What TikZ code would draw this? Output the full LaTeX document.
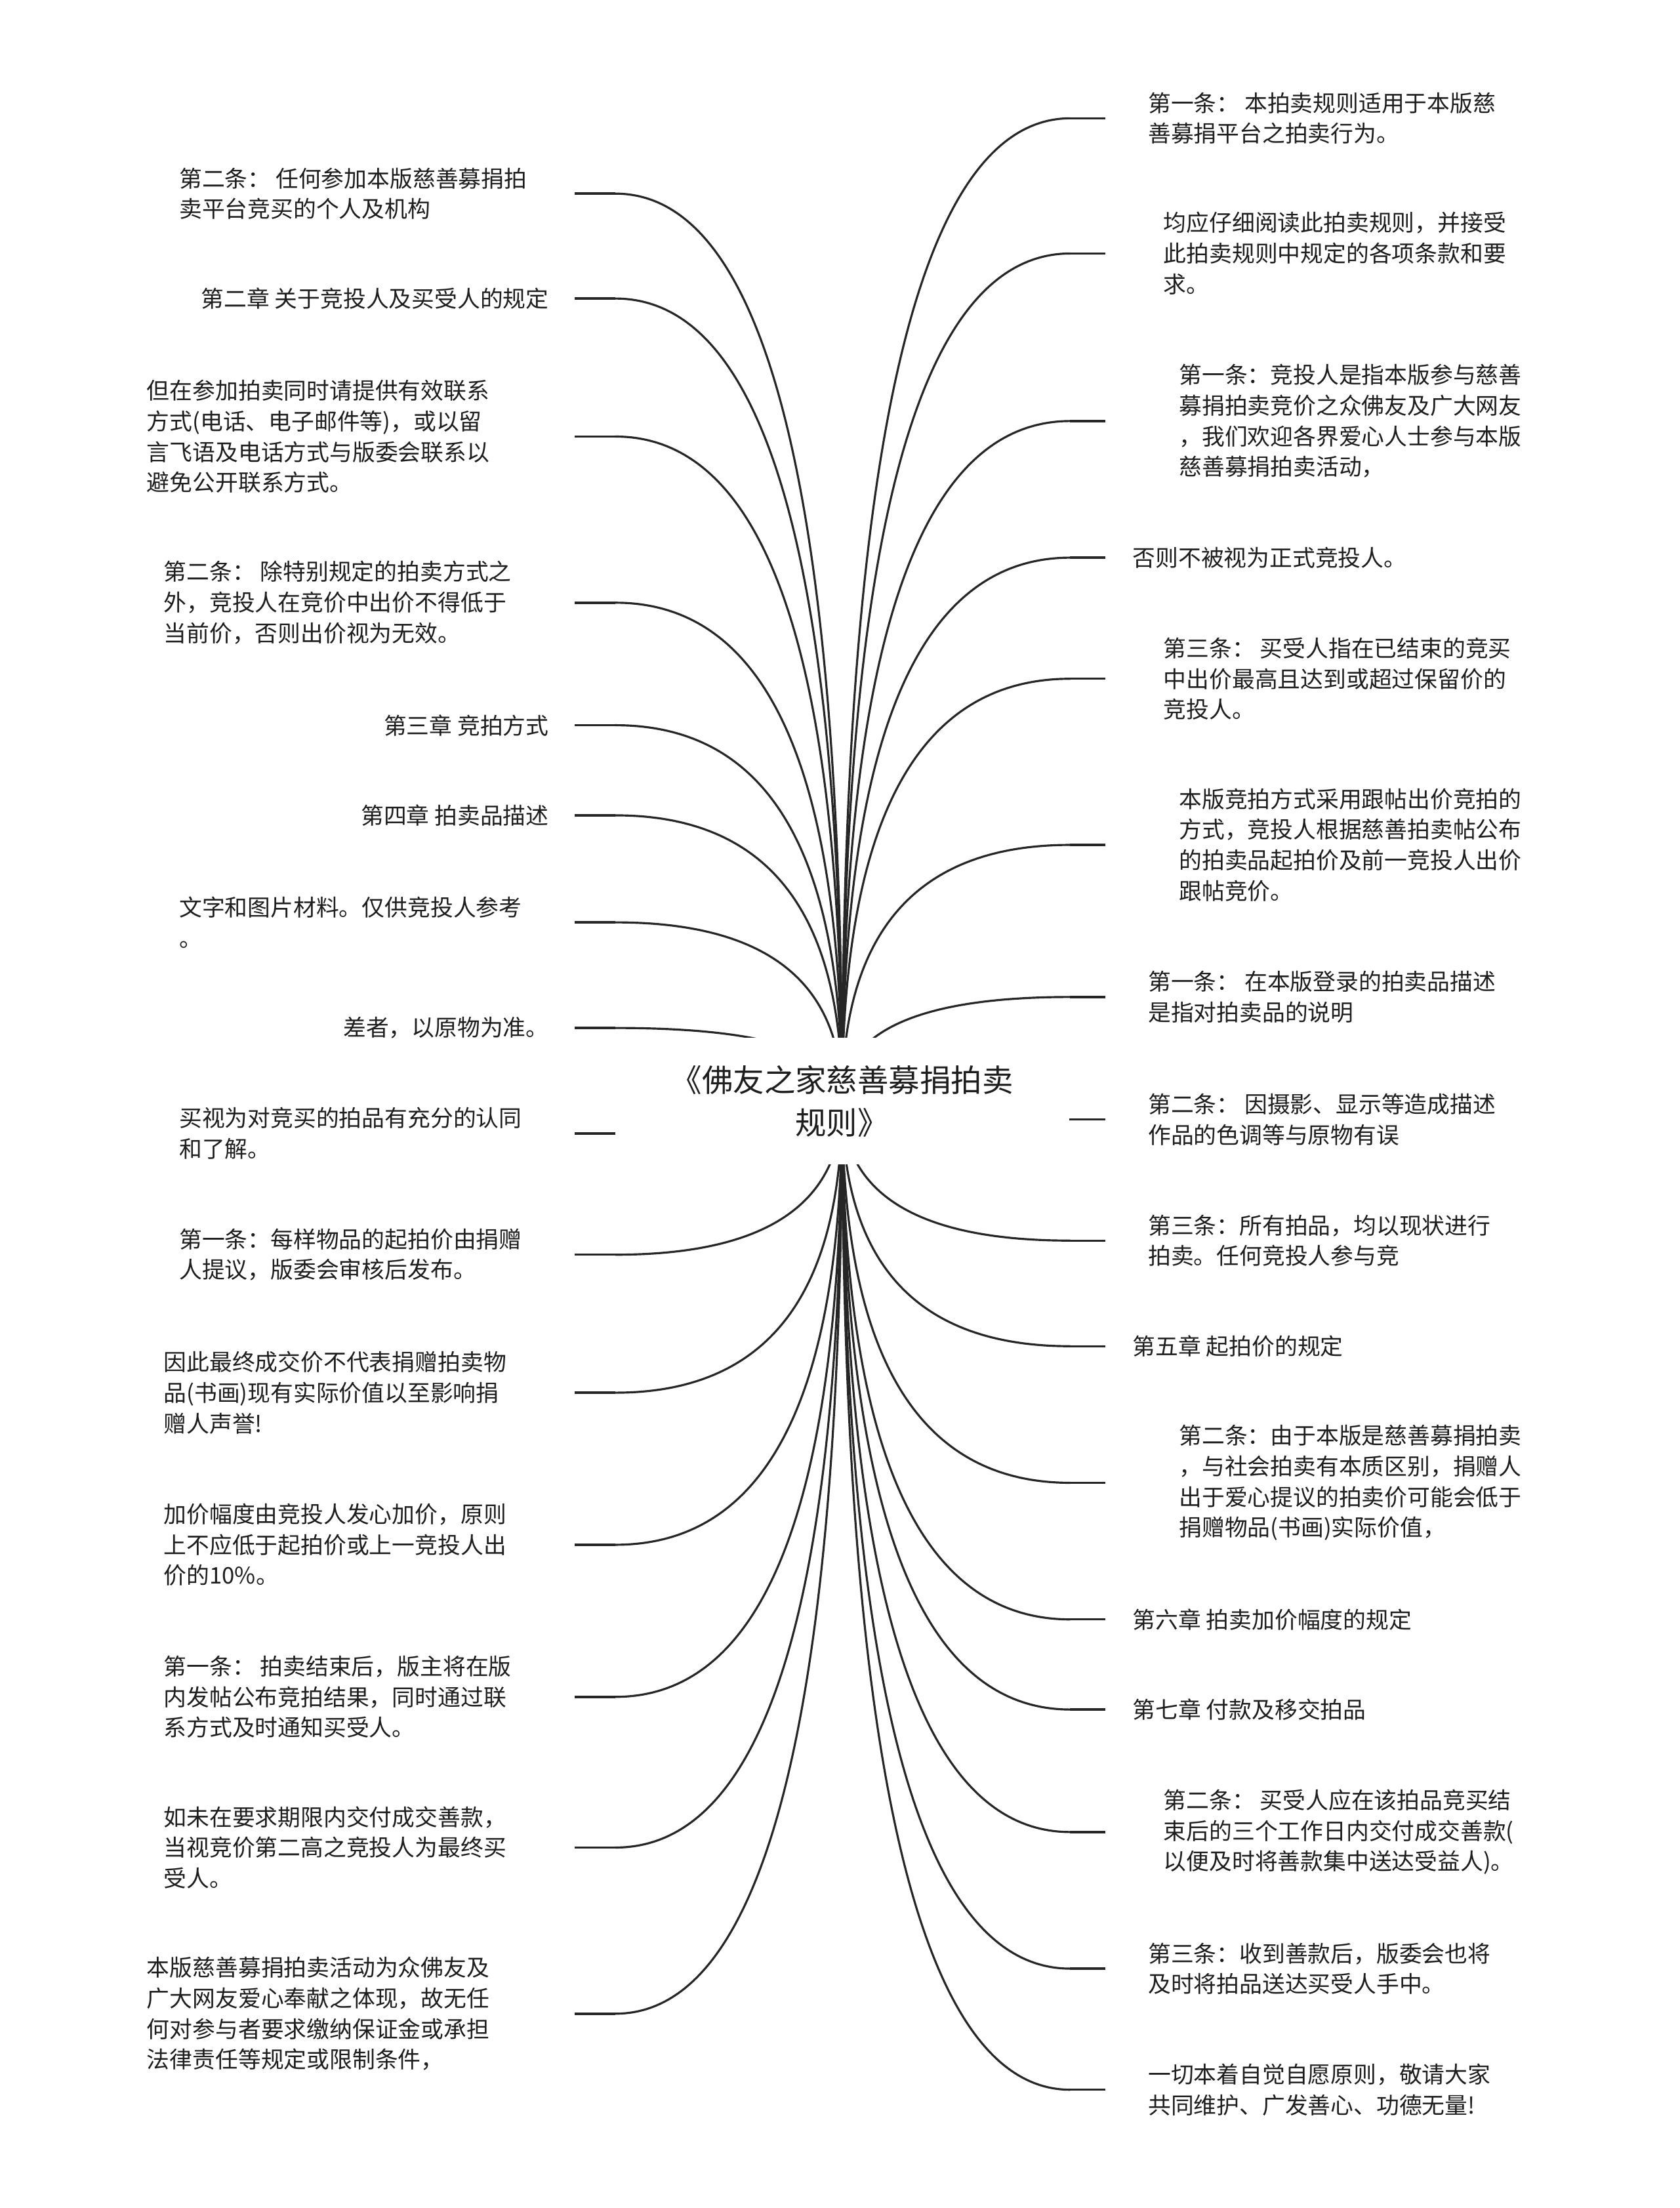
\documentclass[tikz,border=0pt]{standalone}
\usepackage{fontspec}
\usepackage{tikz}
\usetikzlibrary{calc, backgrounds}
\setmainfont{Noto Sans CJK SC}
\definecolor{branchgray}{HTML}{262626}
\definecolor{textdark}{HTML}{1E1E1E}

\begin{document}
\begin{tikzpicture}[
  x=0.21458mm, y=-0.21458mm,
  topic/.style={fill=white, align=center, inner sep=0pt,
               minimum width=69.3mm, minimum height=19.3mm,
               text=textdark, font=\fontsize{13.5pt}{18.4pt}\selectfont},
  leaf/.style={align=left, inner sep=0pt, text=textdark,
               font=\fontsize{9.9pt}{13.3pt}\selectfont},
  branch/.style={draw=branchgray, line width=0.9pt,
               to path={.. controls ($(\tikztostart)!0.667!(\tikztostart |- \tikztotarget)$)
                        and ($(\tikztotarget)!0.667!(\tikztostart |- \tikztotarget)$) .. (\tikztotarget)}},
  stub/.style={draw=branchgray, line width=1pt},
]
\node[topic] (root) at (598,782) {《佛友之家慈善募捐拍卖\\规则》};

% left side
\node[leaf, anchor=west] (l1)  at (127,137.5) {第二条： 任何参加本版慈善募捐拍\\卖平台竞买的个人及机构};
\node[leaf, anchor=east] (l2)  at (390,212)   {第二章 关于竞投人及买受人的规定};
\node[leaf, anchor=west] (l3)  at (104,310)   {但在参加拍卖同时请提供有效联系\\方式(电话、电子邮件等)，或以留\\言飞语及电话方式与版委会联系以\\避免公开联系方式。};
\node[leaf, anchor=west] (l4)  at (116,428)   {第二条： 除特别规定的拍卖方式之\\外，竞投人在竞价中出价不得低于\\当前价，否则出价视为无效。};
\node[leaf, anchor=east] (l5)  at (390,515)   {第三章 竞拍方式};
\node[leaf, anchor=east] (l6)  at (390,579)   {第四章 拍卖品描述};
\node[leaf, anchor=west] (l7)  at (127,655)   {文字和图片材料。仅供竞投人参考\\。};
\node[leaf, anchor=east] (l8)  at (390,730)   {差者，以原物为准。};
\node[leaf, anchor=west] (l9)  at (127,805)   {买视为对竞买的拍品有充分的认同\\和了解。};
\node[leaf, anchor=west] (l10) at (127,891)   {第一条：每样物品的起拍价由捐赠\\人提议，版委会审核后发布。};
\node[leaf, anchor=west] (l11) at (116,989)   {因此最终成交价不代表捐赠拍卖物\\品(书画)现有实际价值以至影响捐\\赠人声誉!};
\node[leaf, anchor=west] (l12) at (116,1097)  {加价幅度由竞投人发心加价，原则\\上不应低于起拍价或上一竞投人出\\价的10\%。};
\node[leaf, anchor=west] (l13) at (116,1205)  {第一条： 拍卖结束后，版主将在版\\内发帖公布竞拍结果，同时通过联\\系方式及时通知买受人。};
\node[leaf, anchor=west] (l14) at (116,1312)  {如未在要求期限内交付成交善款，\\当视竞价第二高之竞投人为最终买\\受人。};
\node[leaf, anchor=west] (l15) at (104,1430)  {本版慈善募捐拍卖活动为众佛友及\\广大网友爱心奉献之体现，故无任\\何对参与者要求缴纳保证金或承担\\法律责任等规定或限制条件，};

% right side
\node[leaf, anchor=west] (r1)  at (815,84)    {第一条： 本拍卖规则适用于本版慈\\善募捐平台之拍卖行为。};
\node[leaf, anchor=west] (r2)  at (826,180)   {均应仔细阅读此拍卖规则，并接受\\此拍卖规则中规定的各项条款和要\\求。};
\node[leaf, anchor=west] (r3)  at (837,299)   {第一条：竞投人是指本版参与慈善\\募捐拍卖竞价之众佛友及广大网友\\，我们欢迎各界爱心人士参与本版\\慈善募捐拍卖活动，};
\node[leaf, anchor=west] (r4)  at (804,396)   {否则不被视为正式竞投人。};
\node[leaf, anchor=west] (r5)  at (826,482)   {第三条： 买受人指在已结束的竞买\\中出价最高且达到或超过保留价的\\竞投人。};
\node[leaf, anchor=west] (r6)  at (837,600)   {本版竞拍方式采用跟帖出价竞拍的\\方式，竞投人根据慈善拍卖帖公布\\的拍卖品起拍价及前一竞投人出价\\跟帖竞价。};
\node[leaf, anchor=west] (r7)  at (815,708)   {第一条： 在本版登录的拍卖品描述\\是指对拍卖品的说明};
\node[leaf, anchor=west] (r8)  at (815,795)   {第二条： 因摄影、显示等造成描述\\作品的色调等与原物有误};
\node[leaf, anchor=west] (r9)  at (815,881)   {第三条：所有拍品，均以现状进行\\拍卖。任何竞投人参与竞};
\node[leaf, anchor=west] (r10) at (804,956)   {第五章 起拍价的规定};
\node[leaf, anchor=west] (r11) at (837,1053)  {第二条：由于本版是慈善募捐拍卖\\，与社会拍卖有本质区别，捐赠人\\出于爱心提议的拍卖价可能会低于\\捐赠物品(书画)实际价值，};
\node[leaf, anchor=west] (r12) at (804,1150)  {第六章 拍卖加价幅度的规定};
\node[leaf, anchor=west] (r13) at (804,1214)  {第七章 付款及移交拍品};
\node[leaf, anchor=west] (r14) at (826,1301)  {第二条： 买受人应在该拍品竞买结\\束后的三个工作日内交付成交善款(\\以便及时将善款集中送达受益人)。};
\node[leaf, anchor=west] (r15) at (815,1398)  {第三条：收到善款后，版委会也将\\及时将拍品送达买受人手中。};
\node[leaf, anchor=west] (r16) at (815,1484)  {一切本着自觉自愿原则，敬请大家\\共同维护、广发善心、功德无量!};

% stub ends
\coordinate (l1a)  at (437,137.5); \coordinate (l1b)  at (408,137.5);
\coordinate (l2a)  at (437,212);   \coordinate (l2b)  at (408,212);
\coordinate (l3a)  at (437,310);   \coordinate (l3b)  at (408,310);
\coordinate (l4a)  at (437,428);   \coordinate (l4b)  at (408,428);
\coordinate (l5a)  at (437,515);   \coordinate (l5b)  at (408,515);
\coordinate (l6a)  at (437,579);   \coordinate (l6b)  at (408,579);
\coordinate (l7a)  at (437,655);   \coordinate (l7b)  at (408,655);
\coordinate (l8a)  at (437,730);   \coordinate (l8b)  at (408,730);
\coordinate (l9a)  at (437,805);   \coordinate (l9b)  at (408,805);
\coordinate (l10a) at (437,891);   \coordinate (l10b) at (408,891);
\coordinate (l11a) at (437,989);   \coordinate (l11b) at (408,989);
\coordinate (l12a) at (437,1097);  \coordinate (l12b) at (408,1097);
\coordinate (l13a) at (437,1205);  \coordinate (l13b) at (408,1205);
\coordinate (l14a) at (437,1312);  \coordinate (l14b) at (408,1312);
\coordinate (l15a) at (437,1430);  \coordinate (l15b) at (408,1430);
\coordinate (r1a)  at (760,84);    \coordinate (r1b)  at (785,84);
\coordinate (r2a)  at (760,180);   \coordinate (r2b)  at (785,180);
\coordinate (r3a)  at (760,299);   \coordinate (r3b)  at (785,299);
\coordinate (r4a)  at (760,396);   \coordinate (r4b)  at (785,396);
\coordinate (r5a)  at (760,482);   \coordinate (r5b)  at (785,482);
\coordinate (r6a)  at (760,600);   \coordinate (r6b)  at (785,600);
\coordinate (r7a)  at (760,708);   \coordinate (r7b)  at (785,708);
\coordinate (r8a)  at (760,795);   \coordinate (r8b)  at (785,795);
\coordinate (r9a)  at (760,881);   \coordinate (r9b)  at (785,881);
\coordinate (r10a) at (760,956);   \coordinate (r10b) at (785,956);
\coordinate (r11a) at (760,1053);  \coordinate (r11b) at (785,1053);
\coordinate (r12a) at (760,1150);  \coordinate (r12b) at (785,1150);
\coordinate (r13a) at (760,1214);  \coordinate (r13b) at (785,1214);
\coordinate (r14a) at (760,1301);  \coordinate (r14b) at (785,1301);
\coordinate (r15a) at (760,1398);  \coordinate (r15b) at (785,1398);
\coordinate (r16a) at (760,1484);  \coordinate (r16b) at (785,1484);

\begin{scope}[on background layer]
\path[fill=white, use as bounding box] (0,0) rectangle (1193,1568);
\draw[branch] (root.center) to (l1a);
\draw[branch] (root.center) to (l2a);
\draw[branch] (root.center) to (l3a);
\draw[branch] (root.center) to (l4a);
\draw[branch] (root.center) to (l5a);
\draw[branch] (root.center) to (l6a);
\draw[branch] (root.center) to (l7a);
\draw[branch] (root.center) to (l8a);
\draw[branch] (root.center) to (l9a);
\draw[branch] (root.center) to (l10a);
\draw[branch] (root.center) to (l11a);
\draw[branch] (root.center) to (l12a);
\draw[branch] (root.center) to (l13a);
\draw[branch] (root.center) to (l14a);
\draw[branch] (root.center) to (l15a);
\draw[branch] (root.center) to (r1a);
\draw[branch] (root.center) to (r2a);
\draw[branch] (root.center) to (r3a);
\draw[branch] (root.center) to (r4a);
\draw[branch] (root.center) to (r5a);
\draw[branch] (root.center) to (r6a);
\draw[branch] (root.center) to (r7a);
\draw[branch] (root.center) to (r8a);
\draw[branch] (root.center) to (r9a);
\draw[branch] (root.center) to (r10a);
\draw[branch] (root.center) to (r11a);
\draw[branch] (root.center) to (r12a);
\draw[branch] (root.center) to (r13a);
\draw[branch] (root.center) to (r14a);
\draw[branch] (root.center) to (r15a);
\draw[branch] (root.center) to (r16a);
\end{scope}

\draw[stub] (l1a) -- (l1b);   \draw[stub] (l2a) -- (l2b);
\draw[stub] (l3a) -- (l3b);   \draw[stub] (l4a) -- (l4b);
\draw[stub] (l5a) -- (l5b);   \draw[stub] (l6a) -- (l6b);
\draw[stub] (l7a) -- (l7b);   \draw[stub] (l8a) -- (l8b);
\draw[stub] (l9a) -- (l9b);   \draw[stub] (l10a) -- (l10b);
\draw[stub] (l11a) -- (l11b); \draw[stub] (l12a) -- (l12b);
\draw[stub] (l13a) -- (l13b); \draw[stub] (l14a) -- (l14b);
\draw[stub] (l15a) -- (l15b);
\draw[stub] (r1a) -- (r1b);   \draw[stub] (r2a) -- (r2b);
\draw[stub] (r3a) -- (r3b);   \draw[stub] (r4a) -- (r4b);
\draw[stub] (r5a) -- (r5b);   \draw[stub] (r6a) -- (r6b);
\draw[stub] (r7a) -- (r7b);   \draw[stub] (r8a) -- (r8b);
\draw[stub] (r9a) -- (r9b);   \draw[stub] (r10a) -- (r10b);
\draw[stub] (r11a) -- (r11b); \draw[stub] (r12a) -- (r12b);
\draw[stub] (r13a) -- (r13b); \draw[stub] (r14a) -- (r14b);
\draw[stub] (r15a) -- (r15b); \draw[stub] (r16a) -- (r16b);
\end{tikzpicture}
\end{document}
